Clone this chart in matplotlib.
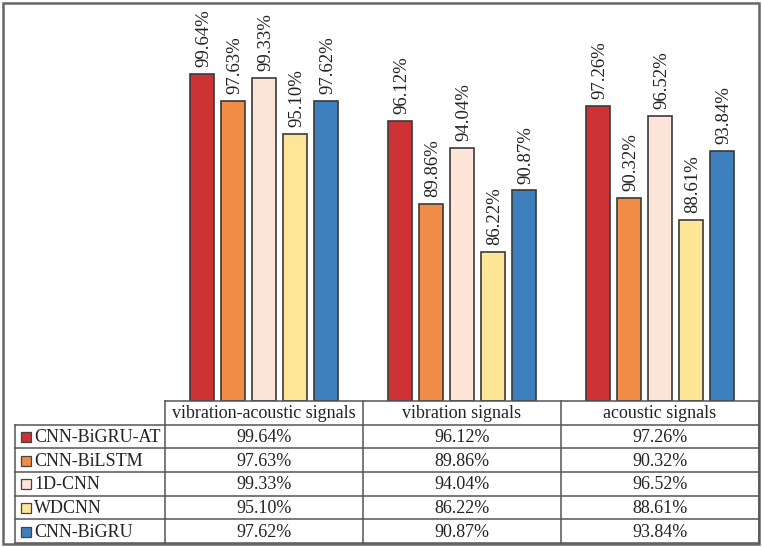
import matplotlib
matplotlib.use("Agg")
import matplotlib.pyplot as plt
from matplotlib.patches import Rectangle
import numpy as np

plt.rcParams['font.family'] = ['Liberation Serif', 'DejaVu Serif']

categories = ["vibration-acoustic signals", "vibration signals", "acoustic signals"]
models = ["CNN-BiGRU-AT", "CNN-BiLSTM", "1D-CNN", "WDCNN", "CNN-BiGRU"]
values = {
    "CNN-BiGRU-AT": [99.64, 96.12, 97.26],
    "CNN-BiLSTM":   [97.63, 89.86, 90.32],
    "1D-CNN":       [99.33, 94.04, 96.52],
    "WDCNN":        [95.10, 86.22, 88.61],
    "CNN-BiGRU":    [97.62, 90.87, 93.84],
}
colors = ["#CD3235", "#F08C46", "#FCE5D8", "#FEE598", "#3E7FBE"]

W, H = 762, 547
fig = plt.figure(figsize=(W / 100, H / 100), dpi=100)

# layout in pixels
x_left_tab = 15
x_col0 = 165
x_right = 759
y_bar_top = 3
y_base = 401
y_tab_bot = 543
col_w = (x_right - x_col0) / 3
row_h = (y_tab_bot - y_base) / 6

def fx(px):
    return px / W

def fy(py):
    return 1 - py / H

# bar axes
ax = fig.add_axes([fx(x_col0), fy(y_base), fx(x_right - x_col0), (y_base - y_bar_top) / H])
ax.set_xlim(-0.5, 2.5)
ax.set_ylim(75, 105)
ax.axis('off')

pitch = 31 / col_w
bw = 24 / col_w
x = np.arange(len(categories))
for i, m in enumerate(models):
    xs = x + (i - 2) * pitch
    ax.bar(xs, np.array(values[m]) - 75, bottom=75, width=bw, color=colors[i],
           edgecolor="#3a3a3a", linewidth=1.2, zorder=2)
    for xi, v in zip(xs, values[m]):
        ax.annotate(f"{v:.2f}%", (xi, v), xytext=(1.5, 5), textcoords="offset points",
                    rotation=90, ha="center", va="bottom", fontsize=13.5, color="#222222")

# table axes (pixel coordinates)
tax = fig.add_axes([0, 0, 1, 1])
tax.set_xlim(0, W)
tax.set_ylim(H, 0)
tax.axis('off')

lc = "#555555"
lw = 1.1
tax.plot([x_col0, x_right], [y_base, y_base], color=lc, lw=lw)
for r in range(1, 7):
    yy = y_base + r * row_h
    tax.plot([x_left_tab, x_right], [yy, yy], color=lc, lw=lw)
tax.plot([x_left_tab, x_left_tab], [y_base + row_h, y_tab_bot], color=lc, lw=lw)
for c in range(4):
    xx = x_col0 + c * col_w
    tax.plot([xx, xx], [y_base, y_tab_bot], color=lc, lw=lw)

for c, cat in enumerate(categories):
    tax.text(x_col0 + (c + 0.5) * col_w, y_base + 0.5 * row_h + 1, cat,
             ha="center", va="center", fontsize=13, color="#222222")
for r, m in enumerate(models):
    yc = y_base + (r + 1.5) * row_h + 1
    tax.add_patch(Rectangle((20.5, yc - 5.5), 10, 10, facecolor=colors[r],
                            edgecolor="#444444", lw=0.9))
    tax.text(34, yc, m, ha="left", va="center", fontsize=13, color="#222222")
    for c in range(3):
        tax.text(x_col0 + (c + 0.5) * col_w, yc, f"{values[m][c]:.2f}%",
                 ha="center", va="center", fontsize=13, color="#222222")

# outer frame
tax.add_patch(Rectangle((2.5, 2.5), 756, 541, facecolor="none", edgecolor="#666666", lw=1.8))

fig.savefig("out.png", dpi=100)
